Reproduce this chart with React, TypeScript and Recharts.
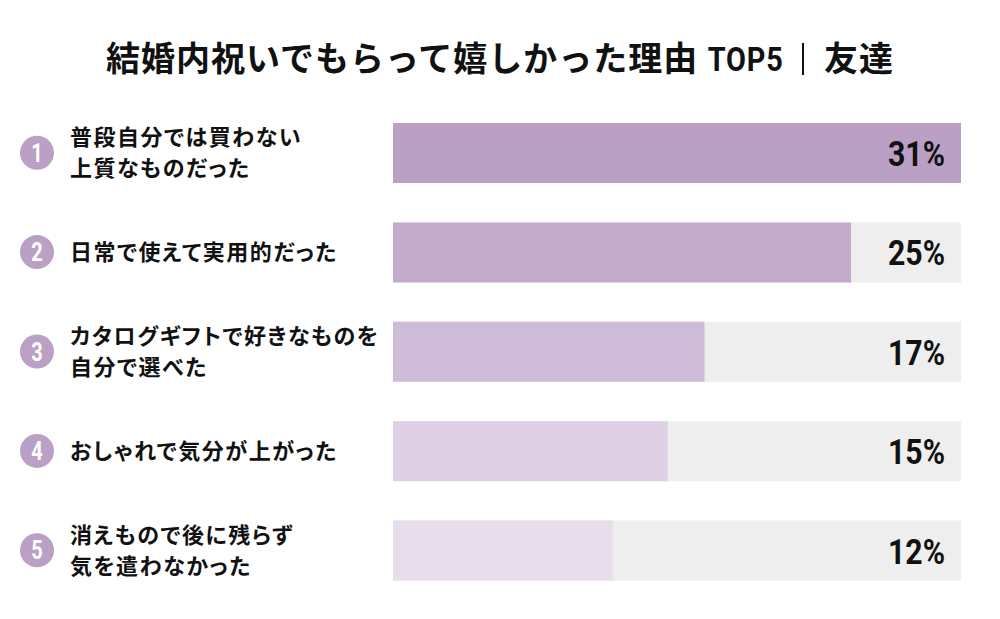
import React from "react";
import { BarChart, Bar, XAxis, YAxis, Cell, LabelList } from "recharts";

const ranks = ["1", "2", "3", "4", "5"];
const reasons = [
  ["普段自分では買わない", "上質なものだった"],
  ["日常で使えて実用的だった"],
  ["カタログギフトで好きなものを", "自分で選べた"],
  ["おしゃれで気分が上がった"],
  ["消えもので後に残らず", "気を遣わなかった"],
];
const values = [31, 25, 17, 15, 12];
const barColors = ["#baa0c5", "#c4abcb", "#cfbcd8", "#dfd1e5", "#e8ddec"];
const titleMain = "結婚内祝いでもらって嬉しかった理由 ";
const titleTop = "TOP5";
const titleSub = "友達";

const data = ranks.map((r, i) => ({ rank: r, lines: reasons[i], value: values[i] }));

const JP = "'Noto Sans CJK JP', 'Noto Sans', sans-serif";
const NUM = "Roboto, 'Noto Sans', sans-serif";

const W = 1000;
const H = 619;
const MARGIN = { top: 103, right: 39, bottom: 19, left: 0 };
const Y_AXIS_W = 393;

const LeftTick = (props: any) => {
  const { y, payload } = props;
  const d = data[payload.index] || data.find((e) => e.rank === payload.value);
  const lines: string[] = d ? d.lines : [];
  const lh = 31;
  const start = y - ((lines.length - 1) * lh) / 2;
  return (
    <g>
      <circle cx={37} cy={y} r={17} fill="#baa0c5" />
      <g transform={`translate(37, ${y}) scale(0.8, 1)`}>
        <text
          x={0}
          y={0}
          dy="0.36em"
          textAnchor="middle"
          fill="#ffffff"
          fontFamily={NUM}
          fontWeight={700}
          fontSize={25}
        >
          {payload.value}
        </text>
      </g>
      {lines.map((l, i) => (
        <text
          key={i}
          x={70}
          y={start + i * lh}
          dy="0.36em"
          fill="#111111"
          fontFamily={JP}
          fontWeight={700}
          fontSize={22}
          letterSpacing={1.5}
          style={{ fontFeatureSettings: "'palt'" }}
        >
          {l}
        </text>
      ))}
    </g>
  );
};

const PctLabel = (props: any) => {
  const { y, height, value } = props;
  const right = W - MARGIN.right - 16;
  return (
    <g transform={`translate(${right}, ${y + height / 2}) scale(0.84, 1)`}>
      <text
        x={0}
        y={0}
        dy="0.36em"
        textAnchor="end"
        fill="#111111"
        fontFamily={NUM}
        fontWeight={700}
        fontSize={36}
      >
        {value}%
      </text>
    </g>
  );
};

export default function App() {
  return (
    <div
      style={{
        position: "absolute",
        left: 0,
        top: 0,
        width: W,
        height: H,
        background: "#ffffff",
        overflow: "hidden",
      }}
    >
      <div
        style={{
          position: "absolute",
          left: 0,
          top: 35,
          width: W,
          textAlign: "center",
          fontFamily: JP,
          fontWeight: 700,
          fontSize: 34,
          lineHeight: "44px",
          color: "#111111",
          letterSpacing: 1,
          whiteSpace: "nowrap",
        }}
      >
        {titleMain}
        <span style={{ fontFamily: NUM, display: "inline-block", transform: "scaleX(0.85)", margin: "0 -6px" }}>
          {titleTop}
        </span>
        <span style={{ display: "inline-block", width: 1.5, height: 32, background: "#111", verticalAlign: "-4px", margin: "0 20px 0 18px" }} />
        {titleSub}
      </div>
      <BarChart width={W} height={H} data={data} layout="vertical" margin={MARGIN}>
        <XAxis type="number" domain={[0, 31]} hide />
        <YAxis
          type="category"
          dataKey="rank"
          width={Y_AXIS_W}
          axisLine={false}
          tickLine={false}
          tick={<LeftTick />}
          interval={0}
        />
        <Bar
          dataKey="value"
          barSize={60}
          isAnimationActive={false}
          background={{ fill: "#eeeeee" }}
        >
          {data.map((d, i) => (
            <Cell key={d.rank} fill={barColors[i]} />
          ))}
          <LabelList dataKey="value" content={<PctLabel />} />
        </Bar>
      </BarChart>
    </div>
  );
}
